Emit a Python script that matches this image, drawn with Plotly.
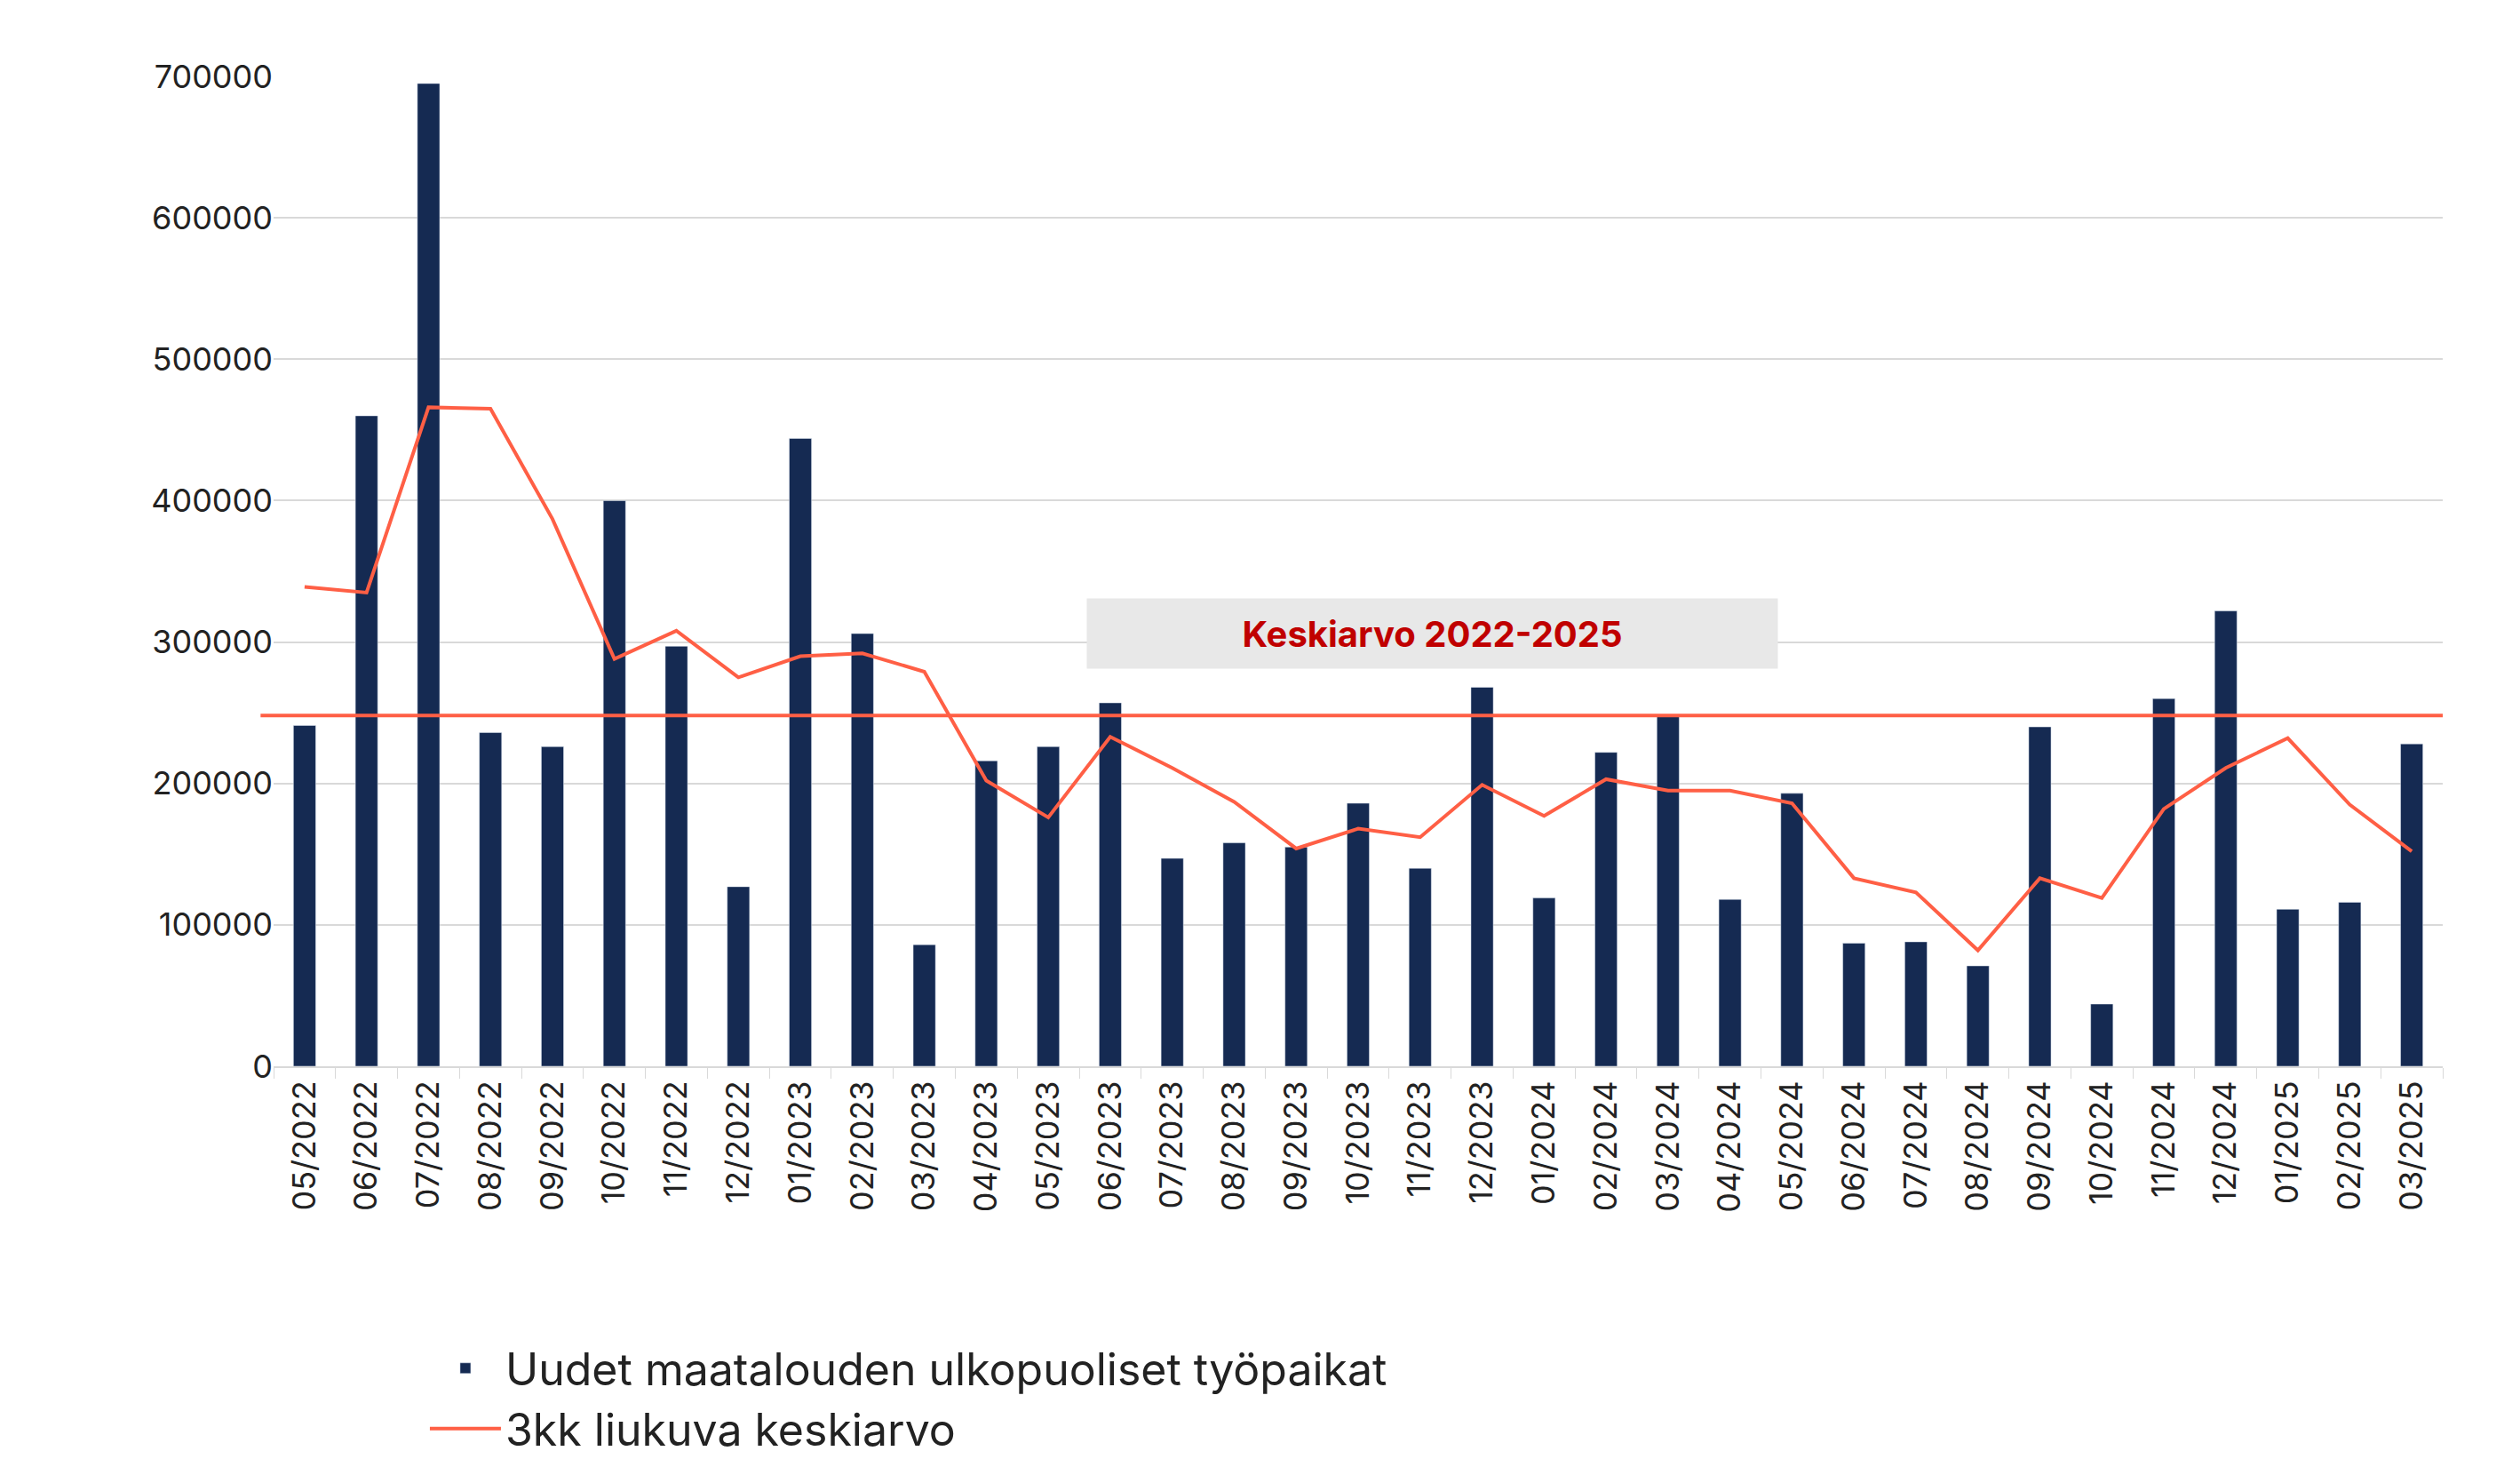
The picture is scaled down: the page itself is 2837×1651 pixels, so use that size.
import plotly.graph_objects as go

months = ["05/2022","06/2022","07/2022","08/2022","09/2022","10/2022","11/2022","12/2022",
          "01/2023","02/2023","03/2023","04/2023","05/2023","06/2023","07/2023","08/2023",
          "09/2023","10/2023","11/2023","12/2023","01/2024","02/2024","03/2024","04/2024",
          "05/2024","06/2024","07/2024","08/2024","09/2024","10/2024","11/2024","12/2024",
          "01/2025","02/2025","03/2025"]
jobs = [241000,460000,695000,236000,226000,400000,297000,127000,444000,306000,86000,216000,
        226000,257000,147000,158000,155000,186000,140000,268000,119000,222000,248000,118000,
        193000,87000,88000,71000,240000,44000,260000,322000,111000,116000,228000]
avg3 = [339000,335000,466000,465000,387000,288000,308000,275000,290000,292000,279000,202000,
        176000,233000,211000,187000,154000,168000,162000,199000,177000,203000,195000,195000,
        186000,133000,123000,82000,133000,119000,182000,211000,232000,185000,152000]
overall_avg = 248000
label = "Keskiarvo 2022-2025"

font = "Inter, Liberation Sans, sans-serif"
fig = go.Figure()
fig.add_bar(x=months, y=jobs, name="Uudet maatalouden ulkopuoliset työpaikat",
            marker_color="#152a52", width=0.36)
fig.add_scatter(x=months, y=avg3, mode="lines", name="3kk liukuva keskiarvo",
                line=dict(color="#ff5f45", width=4))
fig.add_shape(type="line", xref="paper", yref="y", x0=-0.006, x1=1.0,
              y0=overall_avg, y1=overall_avg, line=dict(color="#ff5f45", width=4))
fig.add_annotation(x=18.2, y=306000, xref="x", yref="y", text="<b>"+label+"</b>",
                   showarrow=False, font=dict(color="#c00000", size=40, family=font),
                   bgcolor="#e8e8e8", width=775, height=76)
fig.update_layout(
    width=2837, height=1651, plot_bgcolor="white", paper_bgcolor="white",
    margin=dict(l=300, r=95, t=78, b=455),
    font=dict(family=font, size=36, color="#222"),
    showlegend=True,
    legend=dict(orientation="h", x=0.07, xanchor="left", y=-0.27, yanchor="top",
                font=dict(size=50), itemwidth=80, entrywidth=1250),
    bargap=0.6,
)
fig.update_yaxes(range=[0, 700000], dtick=100000, showgrid=True, gridcolor="#d9d9d9",
                 gridwidth=2, tickformat="d", zeroline=False, ticks="", ticklen=10)
fig.update_xaxes(tickangle=-90, showline=True, linecolor="#d9d9d9", linewidth=2,
                 ticks="outside", tickcolor="#d9d9d9", ticklen=12, tickson="boundaries")
fig.write_html("out.html")
